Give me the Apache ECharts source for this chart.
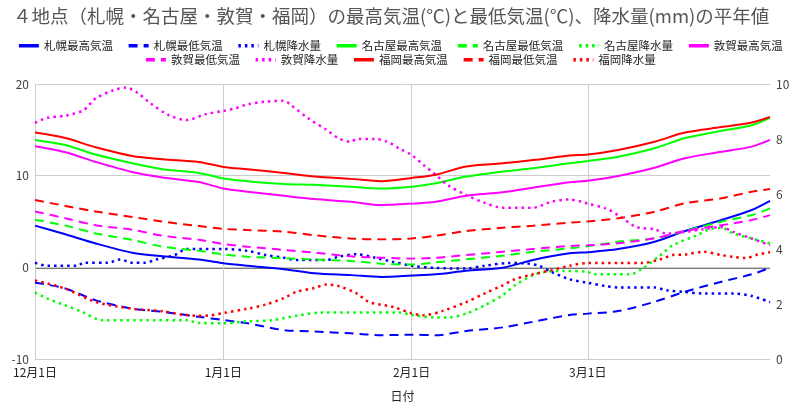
<!DOCTYPE html>
<html lang="ja">
<head>
<meta charset="UTF-8">
<title>平年値</title>
<script src="https://cdn.jsdelivr.net/npm/echarts@6/dist/echarts.min.js"></script>
<style>
  html,body{margin:0;padding:0;background:#fff;}
  #main{width:800px;height:415px;}
</style>
</head>
<body>
<div id="main"></div>
<script>
// x = 12月1日からの日数 (0..121, 2月は29日まで)
var monthStarts = [0, 31, 62, 91];
var monthLabels = ['12月1日', '1月1日', '2月1日', '3月1日'];

// 気温の読み取り日
var tempDays = [0,5,10,16,21,27,31,35,41,46,52,57,62,66,71,77,82,88,91,96,102,107,113,118,121];

var sapporoMax = [4.55,3.6,2.6,1.6,1.2,0.85,0.45,0.17,-0.2,-0.65,-0.85,-1.05,-0.9,-0.76,-0.37,-0.04,0.8,1.53,1.65,2.0,2.8,3.96,5.16,6.25,7.24];
var sapporoMin = [-1.68,-2.3,-3.6,-4.5,-4.85,-5.4,-5.75,-6.1,-6.85,-7.0,-7.2,-7.4,-7.35,-7.4,-6.95,-6.55,-5.94,-5.2,-5.05,-4.77,-3.76,-2.66,-1.57,-0.76,-0.04];
var nagoyaMax = [13.9,13.35,12.3,11.35,10.7,10.3,9.7,9.4,9.1,9.0,8.8,8.6,8.8,9.17,9.9,10.45,10.8,11.35,11.6,12.07,13.0,14.1,14.9,15.5,16.3];
var nagoyaMin = [5.2,4.55,3.7,3.0,2.25,1.8,1.4,1.15,1.0,0.85,0.7,0.4,0.3,0.55,0.87,1.27,1.7,2.07,2.3,2.8,3.17,3.96,4.98,5.7,6.44];
var tsurugaMax = [13.2,12.55,11.5,10.4,9.8,9.3,8.6,8.25,7.8,7.45,7.15,6.8,6.95,7.16,7.82,8.19,8.69,9.28,9.45,9.97,10.87,11.9,12.6,13.17,13.9];
var tsurugaMin = [6.1,5.35,4.6,4.1,3.45,3.0,2.55,2.25,1.9,1.6,1.2,1.05,0.95,1.05,1.34,1.7,2.0,2.33,2.4,2.62,3.17,3.96,4.6,5.16,5.7];
var fukuokaMax = [14.7,14.1,13.1,12.15,11.8,11.5,10.95,10.7,10.3,9.9,9.65,9.4,9.75,10.1,11.0,11.35,11.7,12.2,12.3,12.8,13.7,14.7,15.3,15.8,16.4];
var fukuokaMin = [7.35,6.7,6.1,5.5,5.0,4.5,4.2,4.07,3.9,3.5,3.15,3.05,3.15,3.45,3.96,4.32,4.54,4.87,5.0,5.35,6.07,6.99,7.53,8.25,8.55];

// 降水量 (右軸)
var sapporoRainDays = [0,2,7,8,12,14,16,18,20,23,25,31,35,38,41,43,48,50,53,56,59,62,66,71,74,78,81,83,85,88,91,94,96,102,104,107,110,115,118,121];
var sapporoRain = [3.5,3.39,3.39,3.5,3.5,3.62,3.5,3.5,3.62,3.78,4.0,4.0,3.93,3.78,3.68,3.6,3.6,3.72,3.81,3.68,3.53,3.39,3.31,3.29,3.39,3.49,3.47,3.39,3.17,2.9,2.77,2.65,2.6,2.6,2.5,2.44,2.38,2.38,2.29,2.07];
var nagoyaRainDays = [0,2,5,8,11,25,27,31,35,39,41,43,47,60,62,66,68,71,74,77,79,82,84,87,91,92,98,100,103,105,109,111,113,115,118,121];
var nagoyaRain = [2.42,2.2,1.95,1.69,1.41,1.41,1.31,1.3,1.37,1.41,1.49,1.57,1.69,1.69,1.6,1.51,1.51,1.65,1.95,2.32,2.68,3.05,3.17,3.2,3.17,3.08,3.08,3.29,3.78,4.14,4.5,4.72,4.77,4.56,4.38,4.2];
var tsurugaRainDays = [0,2,5,8,10,13,15,17,19,22,25,28,31,33,35,38,41,42,45,48,50,52,53,56,58,60,62,64,66,68,71,74,77,82,85,88,90,91,94,96,99,102,104,107,110,113,115,118,121];
var tsurugaRain = [8.59,8.77,8.85,9.05,9.48,9.78,9.87,9.66,9.3,8.87,8.69,8.9,9.02,9.12,9.26,9.36,9.39,9.26,8.75,8.33,8.02,7.9,8.0,8.0,7.9,7.65,7.42,7.05,6.69,6.32,5.96,5.68,5.5,5.5,5.72,5.8,5.72,5.65,5.47,5.23,4.8,4.72,4.56,4.62,4.72,4.8,4.62,4.38,4.14];
var fukuokaRainDays = [0,5,10,16,21,24,27,29,31,35,38,41,43,46,48,50,53,55,59,62,64,67,71,74,77,79,82,85,88,91,96,100,103,105,107,110,113,115,117,119,121];
var fukuokaRain = [2.86,2.56,2.07,1.83,1.74,1.62,1.57,1.59,1.67,1.83,1.98,2.22,2.44,2.58,2.71,2.65,2.38,2.07,1.89,1.66,1.59,1.74,2.07,2.38,2.68,2.9,3.08,3.23,3.39,3.49,3.49,3.49,3.63,3.78,3.8,3.9,3.78,3.71,3.67,3.8,3.88];

var BLUE = '#0000ff', GREEN = '#00ff00', MAGENTA = '#ff00ff', RED = '#ff0000';
var FONT = '"Noto Sans CJK JP", "Noto Sans", sans-serif';

function pairs(xs, ys) {
  return xs.map(function (x, i) { return [x, ys[i]]; });
}

function mk(name, color, type, xs, ys, axis) {
  return {
    name: name,
    type: 'line',
    yAxisIndex: axis,
    data: pairs(xs, ys),
    symbol: 'none',
    smooth: 0.3,
    lineStyle: {
      color: color,
      width: type === 'dotted' ? 2.5 : 2,
      type: type === 'dashed' ? [9, 6] : (type === 'dotted' ? [2.5, 4] : 'solid')
    },
    itemStyle: { color: color },
    emphasis: { disabled: true },
    z: 3
  };
}

var series = [
  mk('札幌最高気温', BLUE, 'solid', tempDays, sapporoMax, 0),
  mk('札幌最低気温', BLUE, 'dashed', tempDays, sapporoMin, 0),
  mk('札幌降水量', BLUE, 'dotted', sapporoRainDays, sapporoRain, 1),
  mk('名古屋最高気温', GREEN, 'solid', tempDays, nagoyaMax, 0),
  mk('名古屋最低気温', GREEN, 'dashed', tempDays, nagoyaMin, 0),
  mk('名古屋降水量', GREEN, 'dotted', nagoyaRainDays, nagoyaRain, 1),
  mk('敦賀最高気温', MAGENTA, 'solid', tempDays, tsurugaMax, 0),
  mk('敦賀最低気温', MAGENTA, 'dashed', tempDays, tsurugaMin, 0),
  mk('敦賀降水量', MAGENTA, 'dotted', tsurugaRainDays, tsurugaRain, 1),
  mk('福岡最高気温', RED, 'solid', tempDays, fukuokaMax, 0),
  mk('福岡最低気温', RED, 'dashed', tempDays, fukuokaMin, 0),
  mk('福岡降水量', RED, 'dotted', fukuokaRainDays, fukuokaRain, 1)
];
var names = series.map(function (s) { return s.name; });

function legendRow(list, top) {
  return {
    data: list,
    top: top,
    left: 'center',
    itemWidth: 20,
    itemHeight: 6,
    itemGap: 14,
    itemStyle: { opacity: 0 },
    lineStyle: { width: 3.5 },
    textStyle: { fontSize: 11.5, color: '#222', fontFamily: FONT },
    selectedMode: false
  };
}

var chart = echarts.init(document.getElementById('main'));
chart.setOption({
  animation: false,
  textStyle: { fontFamily: FONT },
  title: {
    text: '４地点（札幌・名古屋・敦賀・福岡）の最高気温(℃)と最低気温(℃)、降水量(mm)の平年値',
    left: 8,
    top: 2,
    textStyle: { fontSize: 18.5, fontWeight: 'normal', color: '#555', fontFamily: FONT }
  },
  legend: [legendRow(names.slice(0, 7), 35), legendRow(names.slice(7), 49)],
  grid: { left: 35, right: 30, top: 84, bottom: 56 },
  xAxis: {
    type: 'value',
    min: 0,
    max: 121,
    name: '日付',
    nameLocation: 'middle',
    nameGap: 31,
    nameTextStyle: { fontSize: 12, color: '#222', fontFamily: FONT },
    axisLine: { show: true, lineStyle: { color: '#ccc' } },
    axisTick: { show: false, customValues: monthStarts },
    axisLabel: {
      customValues: monthStarts,
      color: '#222',
      fontSize: 12,
      margin: 7,
      formatter: function (v) { return monthLabels[monthStarts.indexOf(v)] || ''; }
    },
    splitLine: { show: true, lineStyle: { color: '#ccc', width: 1 } }
  },
  yAxis: [{
    type: 'value',
    min: -10,
    max: 20,
    interval: 10,
    axisLine: { show: false },
    axisTick: { show: false },
    axisLabel: { color: '#444', fontSize: 12, margin: 6 },
    splitLine: { lineStyle: { color: '#ccc', width: 1 } }
  }, {
    type: 'value',
    min: 0,
    max: 10,
    interval: 2,
    position: 'right',
    axisLine: { show: false },
    axisTick: { show: false },
    axisLabel: { color: '#444', fontSize: 12, margin: 6 },
    splitLine: { show: false }
  }, {
    // 0℃ の基準線だけを太く描くための補助軸
    type: 'value',
    min: -10,
    max: 20,
    interval: 10,
    position: 'left',
    axisLine: { show: false },
    axisTick: { show: false },
    axisLabel: { show: false },
    splitLine: { lineStyle: { color: ['rgba(0,0,0,0)', '#777', 'rgba(0,0,0,0)', 'rgba(0,0,0,0)'], width: 2 } }
  }],
  series: series
});
</script>
</body>
</html>
